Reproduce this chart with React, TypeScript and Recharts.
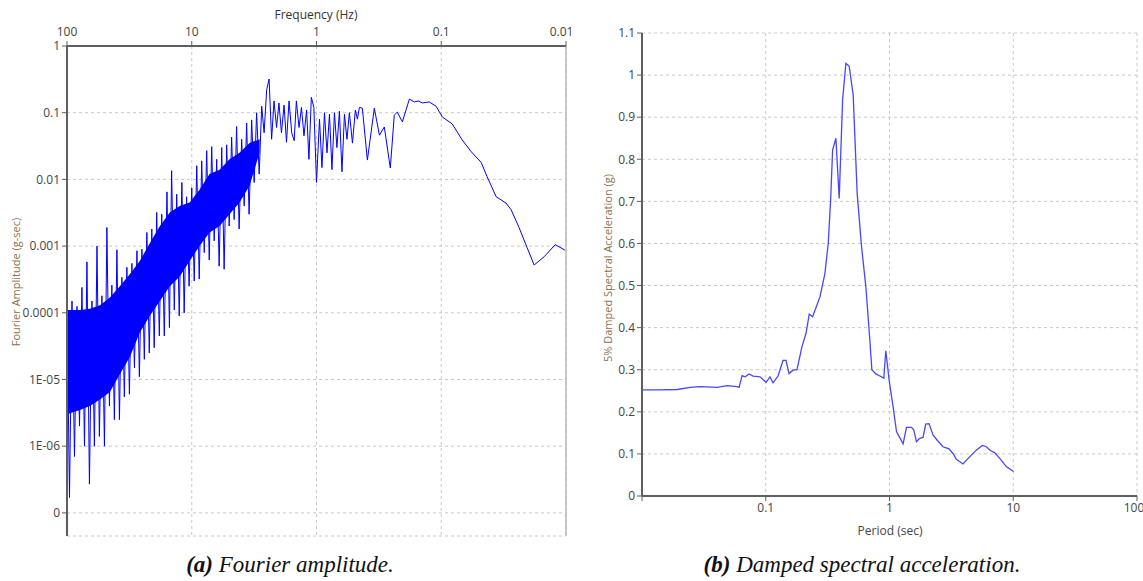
import {
  ComposedChart,
  LineChart,
  Line,
  Area,
  XAxis,
  YAxis,
  CartesianGrid,
  ReferenceLine,
} from "recharts";

// ---- (a) Fourier amplitude ----
const freqTicks = [100, 10, 1, 0.1, 0.01];
const ampTicks = [1, 0.1, 0.01, 0.001, 0.0001, 1e-5, 1e-6, 1e-7];
const ampTickLabels = ["1", "0.1", "0.01", "0.001", "0.0001", "1E-05", "1E-06", "0"];

// dense solid core of the spectrum (Hz, low / high g-sec)
const bandFreq = [100, 78.7, 65.5, 54.4, 45.3, 37.7, 31.3, 26.1, 21.7, 18.0, 15.0, 12.5, 10.4, 8.66, 7.2, 5.98, 4.98, 4.14, 3.44, 2.86];
const bandLow = [3e-6, 3.5e-6, 4e-6, 5e-6, 6.5e-6, 1.2e-5, 2.2e-5, 5e-5, 9e-5, 1.5e-4, 2.5e-4, 3.5e-4, 6e-4, 1e-3, 1.6e-3, 2e-3, 3e-3, 4.5e-3, 8e-3, 0.025];
const bandHigh = [1.1e-4, 1.1e-4, 1.15e-4, 1.3e-4, 1.7e-4, 2.5e-4, 3.8e-4, 6e-4, 1.1e-3, 2e-3, 3.2e-3, 4e-3, 4.5e-3, 7e-3, 0.012, 0.014, 0.02, 0.025, 0.035, 0.04];

// noisy trace, 100 Hz down to 1 Hz
const denseFreq = [
  100, 95.5, 91.2, 87.1, 83.2, 79.4, 75.9, 72.4, 69.2, 66.1,
  63.1, 60.3, 57.5, 55.0, 52.5, 50.1, 47.9, 45.7, 43.7, 41.7,
  39.8, 38.0, 36.3, 34.7, 33.1, 31.6, 30.2, 28.8, 27.5, 26.3,
  25.1, 24.0, 22.9, 21.9, 20.9, 20.0, 19.1, 18.2, 17.4, 16.6,
  15.8, 15.1, 14.5, 13.8, 13.2, 12.6, 12.0, 11.5, 11.0, 10.5,
  10.0, 9.55, 9.12, 8.71, 8.32, 7.94, 7.59, 7.24, 6.92, 6.61,
  6.31, 6.03, 5.75, 5.5, 5.25, 5.01, 4.79, 4.57, 4.37, 4.17,
  3.98, 3.8, 3.63, 3.47, 3.31, 3.16, 3.02, 2.88, 2.75, 2.63,
  2.51, 2.4, 2.29, 2.19, 2.09, 2.0, 1.91, 1.82, 1.74, 1.66,
  1.58, 1.51, 1.45, 1.38, 1.32, 1.26, 1.2, 1.15, 1.1, 1.05,
  1.0,
];
const denseAmp = [
  1.3e-4, 1.7e-7, 1.5e-4, 7e-7, 1.25e-4, 2e-6, 2.4e-4, 1e-6, 5.8e-4, 2.7e-7,
  1.5e-4, 1e-6, 1e-3, 1.4e-6, 1.8e-4, 1e-6, 1.9e-3, 4e-6, 2.6e-4, 2.5e-6,
  8.8e-4, 2.5e-6, 3.4e-4, 5.5e-6, 4.8e-4, 6e-6, 5.5e-4, 1.5e-5, 8.5e-4, 1.1e-5,
  9e-4, 2e-5, 1.6e-3, 2.5e-5, 1.8e-3, 3e-5, 3.2e-3, 4.5e-5, 3e-3, 4.5e-5,
  6.5e-3, 6e-5, 0.0135, 1.1e-4, 6e-3, 9e-5, 9e-3, 1e-4, 5.5e-3, 2.5e-4,
  7.5e-3, 3e-4, 0.016, 3.2e-4, 0.019, 8e-4, 0.027, 6.2e-4, 0.031, 1.2e-3,
  0.02, 5e-4, 0.03, 4.5e-4, 0.033, 2e-3, 0.043, 2.5e-3, 0.062, 1.8e-3,
  0.04, 4e-3, 0.07, 3e-3, 0.078, 9e-3, 0.1, 0.012, 0.125, 0.05,
  0.22, 0.32, 0.04, 0.15, 0.06, 0.14, 0.05, 0.13, 0.036, 0.15,
  0.05, 0.038, 0.15, 0.06, 0.12, 0.045, 0.11, 0.02, 0.17, 0.12,
  0.009,
];

// below 1 Hz
const tailFreq = [
  0.946, 0.904, 0.863, 0.824, 0.787, 0.752, 0.718, 0.686, 0.655, 0.625,
  0.597, 0.57, 0.545, 0.515, 0.488, 0.47, 0.453, 0.429, 0.391, 0.344,
  0.313, 0.286, 0.256, 0.238, 0.225, 0.205, 0.18, 0.164, 0.153, 0.142,
  0.125, 0.11, 0.098, 0.0817, 0.0679, 0.0575, 0.0479, 0.0429, 0.0363, 0.0302,
  0.0275, 0.0238, 0.0205, 0.018, 0.015, 0.0122, 0.0102,
];
const tailAmp = [
  0.08, 0.015, 0.1, 0.025, 0.095, 0.014, 0.1, 0.03, 0.105, 0.013,
  0.095, 0.04, 0.1, 0.035, 0.11, 0.08, 0.12, 0.117, 0.0195, 0.117,
  0.046, 0.061, 0.0148, 0.092, 0.102, 0.073, 0.16, 0.145, 0.15, 0.14,
  0.145, 0.125, 0.086, 0.068, 0.039, 0.026, 0.018, 0.011, 0.0055, 0.0044,
  0.0035, 0.0019, 0.00095, 0.00052, 0.00069, 0.00105, 0.00087,
];

// ---- (b) 5% damped spectral acceleration ----
const periodTicks = [0.01, 0.1, 1, 10, 100];
const saTicks = [0, 0.1, 0.2, 0.3, 0.4, 0.5, 0.6, 0.7, 0.8, 0.9, 1, 1.1];
const periods = [
  0.01, 0.01405, 0.01927, 0.0245, 0.0295, 0.0405, 0.0488, 0.0587, 0.0609, 0.0644,
  0.0681, 0.0734, 0.079, 0.0899, 0.1006, 0.1083, 0.1145, 0.1257, 0.1379, 0.1458,
  0.1541, 0.1661, 0.1788, 0.1962, 0.2113, 0.2247, 0.2393, 0.2741, 0.3008, 0.3197,
  0.3344, 0.347, 0.3689, 0.3922, 0.4178, 0.4442, 0.4723, 0.5088, 0.5479, 0.5946,
  0.6441, 0.6937, 0.72, 0.7755, 0.8354, 0.8995, 0.9338, 0.9926, 1.069, 1.139,
  1.288, 1.372, 1.505, 1.57, 1.651, 1.755, 1.866, 1.962, 2.086, 2.247,
  2.42, 2.706, 3.024, 3.257, 3.47, 3.923, 4.443, 5.03, 5.623, 6.058,
  6.524, 7.068, 7.753, 8.78, 10.06,
];
const spectralAcc = [
  0.252, 0.252, 0.253, 0.258, 0.26, 0.258, 0.262, 0.26, 0.258, 0.286,
  0.283, 0.29, 0.285, 0.283, 0.27, 0.283, 0.269, 0.285, 0.322, 0.322,
  0.291, 0.299, 0.3, 0.355, 0.386, 0.432, 0.426, 0.473, 0.529, 0.6,
  0.703, 0.822, 0.85, 0.707, 0.941, 1.028, 1.021, 0.953, 0.719, 0.592,
  0.497, 0.37, 0.3, 0.29, 0.285, 0.28, 0.345, 0.276, 0.212, 0.153,
  0.124, 0.163, 0.163, 0.157, 0.129, 0.137, 0.139, 0.171, 0.172, 0.145,
  0.133, 0.117, 0.112, 0.101, 0.087, 0.076, 0.093, 0.109, 0.12, 0.117,
  0.108, 0.103, 0.09, 0.07, 0.058,
];

const bandData = bandFreq.map((f, i) => ({ f, band: [bandLow[i], bandHigh[i]] }));
const fourierData = [
  ...denseFreq.map((f, i) => ({ f, a: denseAmp[i] })),
  ...tailFreq.map((f, i) => ({ f, a: tailAmp[i] })),
];
const spectrumData = periods.map((t, i) => ({ t, sa: spectralAcc[i] }));

const AXIS = "#5f5f5f";
const GRID = "#c9c9c9";
const UI_FONT = "'Open Sans', 'Noto Sans', sans-serif";
const tickStyle = { fontSize: 12, fill: "#444", fontFamily: UI_FONT };
const titleColor = "#8c7049";
const captionStyle = {
  fontSize: 23,
  fontStyle: "italic",
  fontFamily: "'Liberation Serif', serif",
  color: "#111",
};

function ampLabel(v: number) {
  const i = ampTicks.findIndex((t) => Math.abs(Math.log10(t) - Math.log10(v)) < 1e-6);
  return i >= 0 ? ampTickLabels[i] : "";
}

function Text({ x, y, children, rotate, style }: any) {
  return (
    <div
      style={{
        position: "absolute",
        left: x,
        top: y,
        transform: `translate(-50%, -50%)${rotate ? ` rotate(${rotate}deg)` : ""}`,
        whiteSpace: "nowrap",
        ...style,
      }}
    >
      {children}
    </div>
  );
}

export default function App() {
  return (
    <div
      style={{
        position: "relative",
        width: 1143,
        height: 581,
        background: "#fff",
        overflow: "hidden",
        fontFamily: UI_FONT,
      }}
    >
      <style>{`body{margin:0}`}</style>

      {/* (a) Fourier amplitude */}
      <div style={{ position: "absolute", left: 0, top: 0, width: 571, height: 560, overflow: "hidden" }}>
        <ComposedChart width={572} height={560} margin={{ top: 16, right: 6, bottom: 24, left: 7 }}>
          <CartesianGrid stroke={GRID} strokeDasharray="3 3" />
          <XAxis
            type="number"
            dataKey="f"
            scale="log"
            domain={[0.01, 100]}
            reversed
            orientation="top"
            ticks={freqTicks}
            tickFormatter={(v) => String(v)}
            allowDataOverflow
            height={30}
            axisLine={{ stroke: AXIS, strokeWidth: 2 }}
            tickLine={{ stroke: AXIS }}
            tickSize={5}
            tickMargin={5}
            tick={tickStyle}
          />
          <YAxis
            type="number"
            scale="log"
            domain={[4.5e-8, 1]}
            ticks={ampTicks}
            tickFormatter={ampLabel}
            allowDataOverflow
            width={60}
            axisLine={{ stroke: AXIS, strokeWidth: 2 }}
            tickLine={{ stroke: AXIS }}
            tickSize={5}
            tick={tickStyle}
          />
          <ReferenceLine x={0.01} stroke="#b8b8b8" strokeWidth={1.5} />
          <ReferenceLine
            segment={[
              { x: 100, y: 4.5e-8 },
              { x: 100, y: 1e-7 },
            ]}
            stroke="#c4c4c4"
            strokeWidth={2.5}
          />
          <Area
            data={bandData}
            dataKey="band"
            type="linear"
            stroke="none"
            fill="#0000ff"
            fillOpacity={1}
            isAnimationActive={false}
          />
          <Line
            data={fourierData}
            dataKey="a"
            type="linear"
            stroke="#0000ff"
            strokeWidth={1}
            dot={false}
            isAnimationActive={false}
          />
        </ComposedChart>
      </div>

      {/* (b) Damped spectral acceleration */}
      <div style={{ position: "absolute", left: 580, top: 0, width: 563, height: 560, overflow: "hidden" }}>
        <LineChart width={563} height={560} data={spectrumData} margin={{ top: 33, right: 6, bottom: 34, left: 12 }}>
          <CartesianGrid stroke={GRID} strokeDasharray="3 3" />
          <XAxis
            type="number"
            dataKey="t"
            scale="log"
            domain={[0.01, 100]}
            ticks={periodTicks}
            tickFormatter={(v) => (v === 0.01 ? "" : String(v))}
            allowDataOverflow
            height={30}
            axisLine={{ stroke: AXIS, strokeWidth: 2 }}
            tickLine={{ stroke: AXIS }}
            tickSize={5}
            tick={tickStyle}
          />
          <YAxis
            type="number"
            domain={[0, 1.1]}
            ticks={saTicks}
            tickFormatter={(v) => String(v)}
            width={50}
            axisLine={{ stroke: AXIS, strokeWidth: 2 }}
            tickLine={{ stroke: AXIS }}
            tickSize={5}
            tick={tickStyle}
          />
          <Line
            dataKey="sa"
            type="linear"
            stroke="#4646ff"
            strokeWidth={1.3}
            dot={false}
            isAnimationActive={false}
          />
        </LineChart>
      </div>

      {/* axis titles */}
      <Text x={316} y={14} style={{ fontSize: 12, color: "#333" }}>
        Frequency (Hz)
      </Text>
      <Text x={15} y={282} rotate={-90} style={{ fontSize: 11, color: titleColor }}>
        Fourier Amplitude (g-sec)
      </Text>
      <Text x={607} y={268} rotate={-90} style={{ fontSize: 11, color: titleColor }}>
        5% Damped Spectral Acceleration (g)
      </Text>
      <Text x={890} y={530} style={{ fontSize: 12, color: "#444" }}>
        Period (sec)
      </Text>

      {/* captions */}
      <Text x={290} y={565} style={captionStyle}>
        <b>(a)</b> Fourier amplitude.
      </Text>
      <Text x={862} y={565} style={captionStyle}>
        <b>(b)</b> Damped spectral acceleration.
      </Text>
    </div>
  );
}
